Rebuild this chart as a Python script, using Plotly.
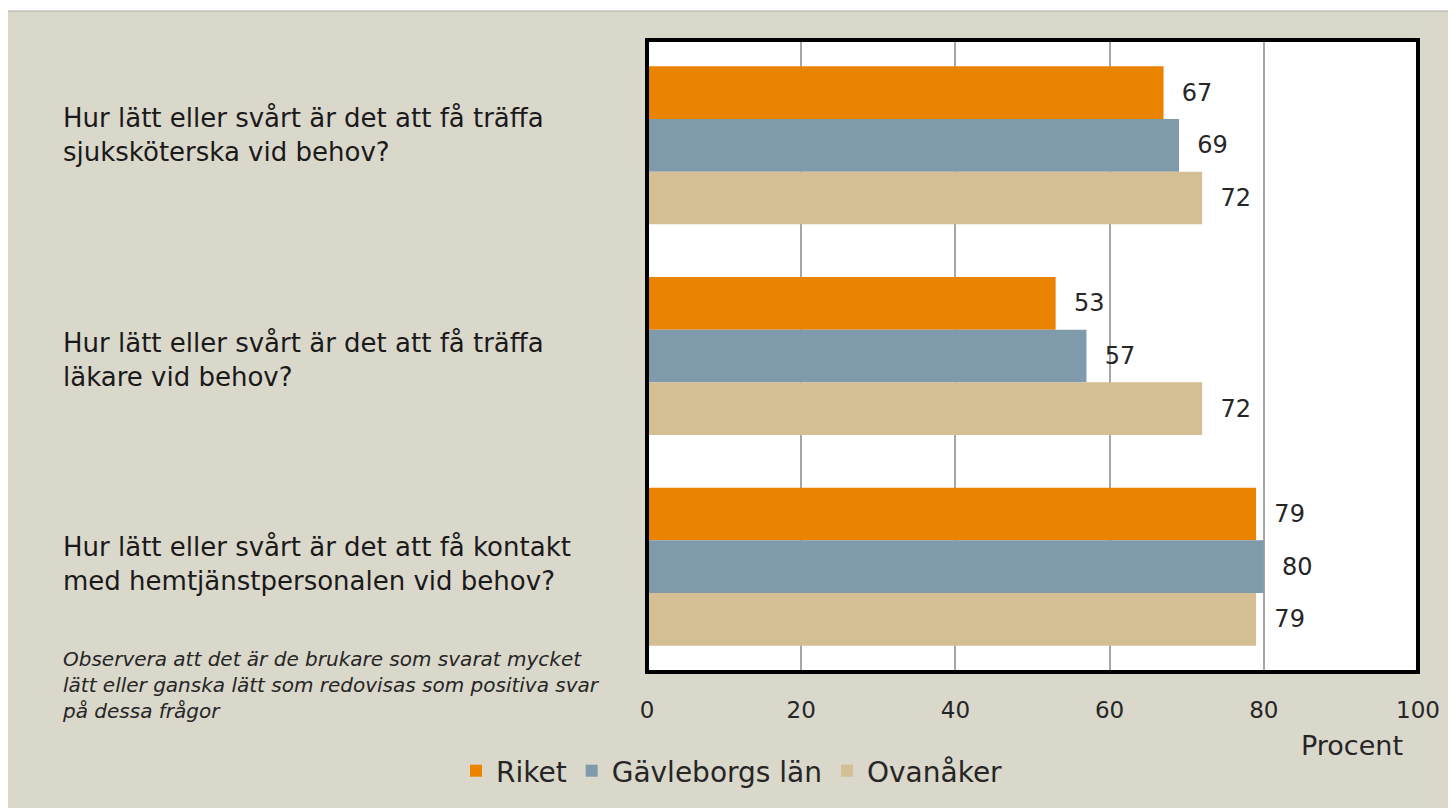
import plotly.graph_objects as go

# %% data
questions = [
    "Hur lätt eller svårt är det att få träffa<br>sjuksköterska vid behov?",
    "Hur lätt eller svårt är det att få träffa<br>läkare vid behov?",
    "Hur lätt eller svårt är det att få kontakt<br>med hemtjänstpersonalen vid behov?",
]
riket = [67, 53, 79]
gavleborg = [69, 57, 80]
ovanaker = [72, 72, 79]
series_names = ["Riket", "Gävleborgs län", "Ovanåker"]
colors = ["#E98300", "#7F9BAB", "#D4BE94"]
x_ticks = [0, 20, 40, 60, 80, 100]
note = ("Observera att det är de brukare som svarat mycket<br>"
        "lätt eller ganska lätt som redovisas som positiva svar<br>"
        "på dessa frågor")
label_shift = [10, -4, 3]

# %% layout helpers (page body adds an 8px margin)
OFF = 8
W, H = 1456 - OFF, 808 - OFF
L, T = 647 - OFF, 40 - OFF
R, B = W - (1418 - OFF), H - (672 - OFF)
pw, ph = W - L - R, H - T - B
font = "'DejaVu Sans', sans-serif"


def px(x):
    return (x - OFF - L) / pw


def py(y):
    return 1 - (y - OFF - T) / ph


fig = go.Figure()
for name, vals, col in zip(series_names, [riket, gavleborg, ovanaker], colors):
    fig.add_trace(go.Bar(
        y=questions, x=vals, name=name, orientation="h",
        marker=dict(color=col, line=dict(width=0)),
        text=vals, texttemplate="  %{x}", textposition="outside",
        textfont=dict(size=24, color="#262626", family=font),
        cliponaxis=False,
    ))

fig.update_layout(
    width=W, height=H,
    margin=dict(l=L, r=R, t=T, b=B),
    paper_bgcolor="#DAD7CB",
    plot_bgcolor="white",
    barmode="group",
    bargap=0.25,
    bargroupgap=0,
    font=dict(family=font, color="#262626"),
    showlegend=True,
    legend=dict(
        orientation="h", x=px(456), xanchor="left",
        y=py(771), yanchor="middle",
        font=dict(size=28), bgcolor="rgba(0,0,0,0)",
        itemwidth=30, tracegroupgap=0,
    ),
    xaxis=dict(
        range=[0, 100], tickvals=x_ticks, showgrid=True,
        gridcolor="#A6A6A6", gridwidth=1.5, zeroline=False,
        tickfont=dict(size=23), ticks="", ticklabelstandoff=22,
        fixedrange=True,
    ),
    yaxis=dict(
        autorange="reversed", showticklabels=False, showgrid=False,
        zeroline=False, ticks="",
    ),
)

# question labels, left aligned
for q, s in zip(questions, label_shift):
    fig.add_annotation(
        xref="paper", yref="y", x=px(61), y=q, xanchor="left",
        yanchor="middle", text=q, showarrow=False, align="left", yshift=s,
        font=dict(size=26, color="#1a1a1a"),
    )

# note text
fig.add_annotation(
    xref="paper", yref="paper", x=px(60), y=py(685),
    xanchor="left", yanchor="middle", text="<i>" + note + "</i>",
    showarrow=False, align="left", font=dict(size=20, color="#262626"),
)

# axis title
fig.add_annotation(
    xref="paper", yref="paper", x=px(1352), y=py(745),
    xanchor="center", yanchor="middle", text="Procent", showarrow=False,
    font=dict(size=27, color="#262626"),
)

# plot frame
fig.add_shape(type="rect", xref="paper", yref="paper", x0=0, x1=1, y0=0, y1=1,
              line=dict(color="black", width=4), layer="above")

# thin grey border of the chart box
fig.add_shape(type="rect", xref="paper", yref="paper",
              x0=-L / pw - 0.01, x1=1 + R / pw + 0.01, y0=py(11), y1=1 + T / ph + 0.01,
              fillcolor="white", line=dict(width=0), layer="below")
fig.add_shape(type="rect", xref="paper", yref="paper",
              x0=px(7.5), x1=1 + (R + 5) / pw, y0=-(B + 5) / ph, y1=py(11),
              line=dict(color="#B0ADA5", width=1), layer="below")

fig.write_html("out.html")
